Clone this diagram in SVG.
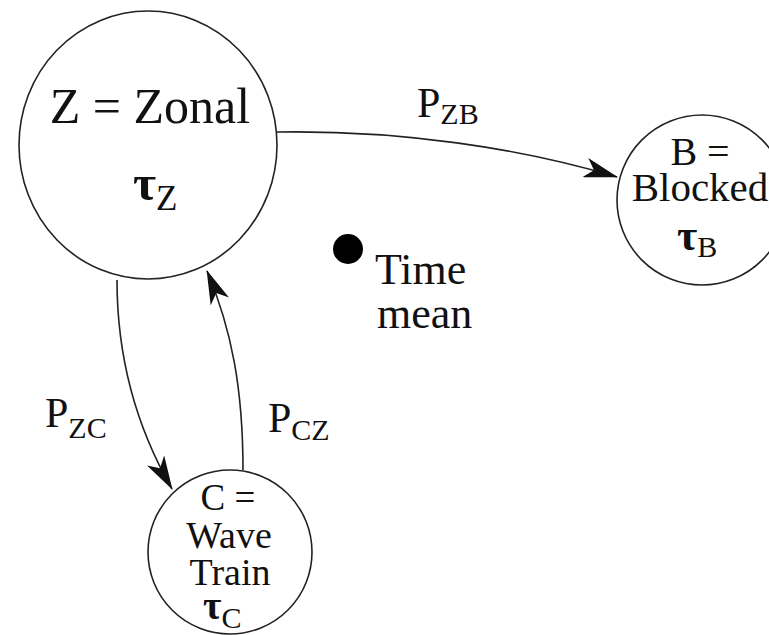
<svg xmlns="http://www.w3.org/2000/svg" width="769" height="635" viewBox="0 0 769 635" font-family="Liberation Serif, DejaVu Serif, serif">
<style>
.t{fill:#111;font-family:"Liberation Serif",serif}
.node{fill:#fff;stroke:#222;stroke-width:1.6}
.edge{fill:none;stroke:#222;stroke-width:1.6}
</style>
<defs>
<marker id="ah" viewBox="0 0 34 20" refX="33" refY="10" markerWidth="34" markerHeight="20" markerUnits="userSpaceOnUse" orient="auto">
<path d="M0,0 L34,10 L0,20 L9,10 z" fill="#111"/>
</marker>
</defs>
<rect width="769" height="635" fill="#fff"/>
<g id="connectors">
<path class="edge" d="M277,132 C400,130 520,148 617,177" marker-end="url(#ah)"/>
<path class="edge" d="M117,280 C117,360 138,430 172,489" marker-end="url(#ah)"/>
<path class="edge" d="M243,470 C243,390 232,330 207,271" marker-end="url(#ah)"/>
</g>
<g id="Z">
<ellipse class="node" cx="148" cy="145" rx="129" ry="134"/>
<text class="t" x="150" y="123" font-size="50" text-anchor="middle">Z = Zonal</text>
<text class="t" x="133" y="200" font-size="50" font-weight="bold">τ<tspan font-size="35" font-weight="normal" y="210">Z</tspan></text>
</g>
<g id="B">
<ellipse class="node" cx="702" cy="200" rx="85" ry="85"/>
<text class="t" x="700" y="165" font-size="40" text-anchor="middle">B =</text>
<text class="t" x="700" y="201" font-size="41" text-anchor="middle">Blocked</text>
<text class="t" x="677" y="250" font-size="44" font-weight="bold">τ<tspan font-size="30" font-weight="normal" y="257">B</tspan></text>
</g>
<g id="C">
<ellipse class="node" cx="230" cy="552" rx="82" ry="82"/>
<text class="t" x="228" y="510" font-size="37" text-anchor="middle">C =</text>
<text class="t" x="229" y="548" font-size="38" text-anchor="middle">Wave</text>
<text class="t" x="230" y="585" font-size="38" text-anchor="middle">Train</text>
<text class="t" x="203" y="619" font-size="40" font-weight="bold">τ<tspan font-size="30" font-weight="normal" y="628">C</tspan></text>
</g>
<g id="timemean">
<circle cx="348" cy="249" r="15" fill="#000"/>
<text class="t" x="375" y="284" font-size="44">Time</text>
<text class="t" x="377" y="328" font-size="44">mean</text>
</g>
<g id="labels">
<text class="t" x="417" y="117" font-size="42">P<tspan font-size="30" y="124">ZB</tspan></text>
<text class="t" x="45" y="427" font-size="42">P<tspan font-size="30" y="438">ZC</tspan></text>
<text class="t" x="268" y="432" font-size="42">P<tspan font-size="30" y="440">CZ</tspan></text>
</g>
</svg>
